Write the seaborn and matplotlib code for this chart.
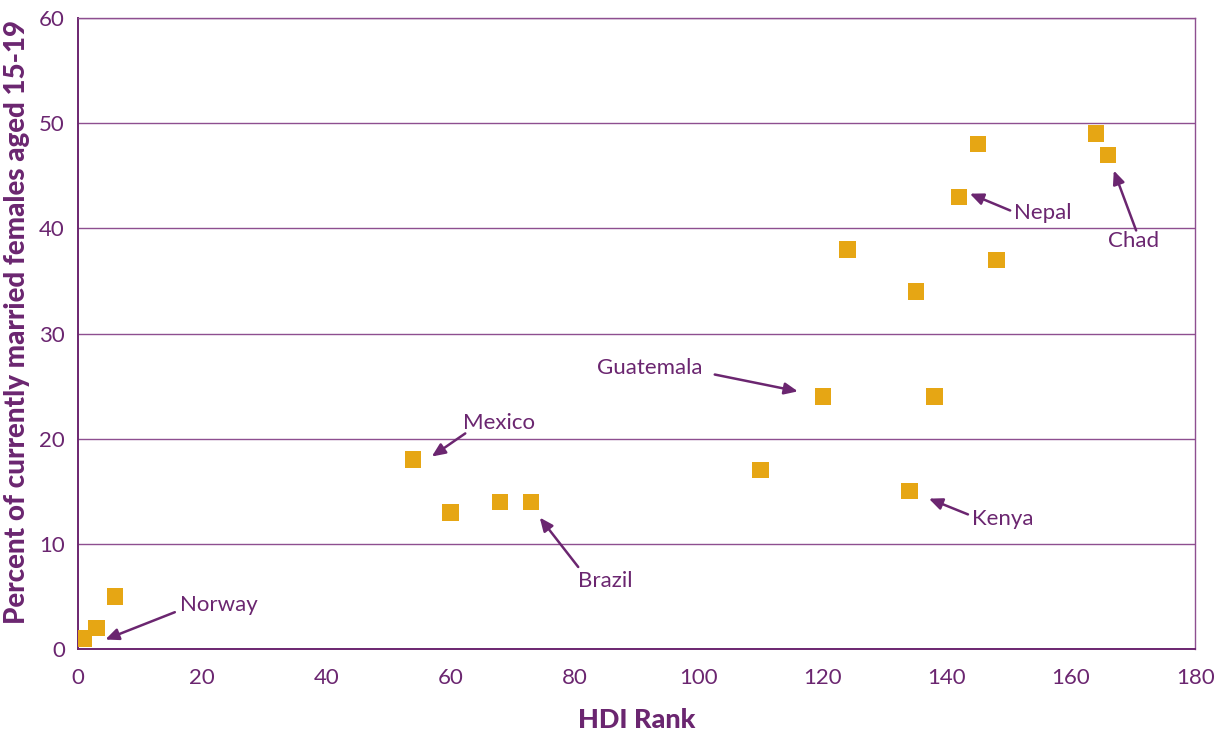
import pandas as pd
import matplotlib
matplotlib.use("Agg")
import matplotlib.pyplot as plt
import seaborn as sns

# HDI rank vs percent of married females aged 15-19
hdi_rank = [1, 3, 6, 54, 60, 68, 73, 110, 120, 124, 134, 135, 138, 142, 145, 148, 164, 166]
pct_married = [1, 2, 5, 18, 13, 14, 14, 17, 24, 38, 15, 34, 24, 43, 48, 37, 49, 47]

# labelled countries: name, label position, arrow tail, arrow head
labels = ["Norway", "Mexico", "Brazil", "Guatemala", "Kenya", "Nepal", "Chad"]
label_pos = [(16.4, 4.2), (62.0, 21.5), (80.6, 6.5), (83.6, 26.7), (144.1, 12.4), (150.8, 41.5), (166.0, 38.8)]
arrow_tail = [(15.6, 3.5), (62.4, 20.5), (80.6, 7.8), (102.6, 26.1), (143.4, 12.8), (150.2, 41.7), (170.5, 39.8)]
arrow_head = [(4.4, 0.9), (57.0, 18.3), (74.4, 12.5), (116.0, 24.5), (137.1, 14.3), (143.7, 43.3), (166.9, 45.5)]

df = pd.DataFrame({"hdi": hdi_rank, "pct": pct_married})

purple = "#6B2670"
grid_purple = "#8E4F90"
gold = "#E6A614"

sns.set_style("white")
plt.rcParams["font.family"] = ["Lato", "DejaVu Sans"]

fig = plt.figure(figsize=(12.17, 7.36), dpi=100)
ax = fig.add_axes([0.0641, 0.1182, 0.9179, 0.8573])

sns.scatterplot(data=df, x="hdi", y="pct", marker="s", s=140, color=gold,
                edgecolor="none", linewidth=0, ax=ax, zorder=3)

ax.set_xlim(0, 180)
ax.set_ylim(0, 60)
ax.set_xticks(range(0, 181, 20))
ax.set_yticks(range(0, 61, 10))
ax.yaxis.grid(True, color=grid_purple, linewidth=1.0)
ax.set_axisbelow(True)

for sp in ax.spines.values():
    sp.set_color(grid_purple)
    sp.set_linewidth(1.0)
ax.spines["left"].set_color(purple)
ax.spines["left"].set_linewidth(1.4)
ax.spines["bottom"].set_color(purple)
ax.spines["bottom"].set_linewidth(1.4)

ax.tick_params(axis="both", colors=purple, labelcolor=purple, labelsize=16,
               direction="out", length=6, width=1.0)
ax.tick_params(axis="x", pad=8)

ax.set_xlabel("HDI Rank", color=purple, fontsize=19.5, fontweight="black", labelpad=14)
ax.set_ylabel("Percent of currently married females aged 15-19", color=purple,
              fontsize=20, fontweight="black")
ax.yaxis.set_label_coords(-0.043, 0.518)

for name, pos, tail, head in zip(labels, label_pos, arrow_tail, arrow_head):
    ax.text(pos[0], pos[1], name, color=purple, fontsize=16, ha="left", va="center")
    ax.annotate("", xy=head, xytext=tail,
                arrowprops=dict(arrowstyle="-|>,head_length=0.8,head_width=0.35",
                                color=purple, lw=1.8, shrinkA=0, shrinkB=0))

fig.savefig("out.png", dpi=100)
